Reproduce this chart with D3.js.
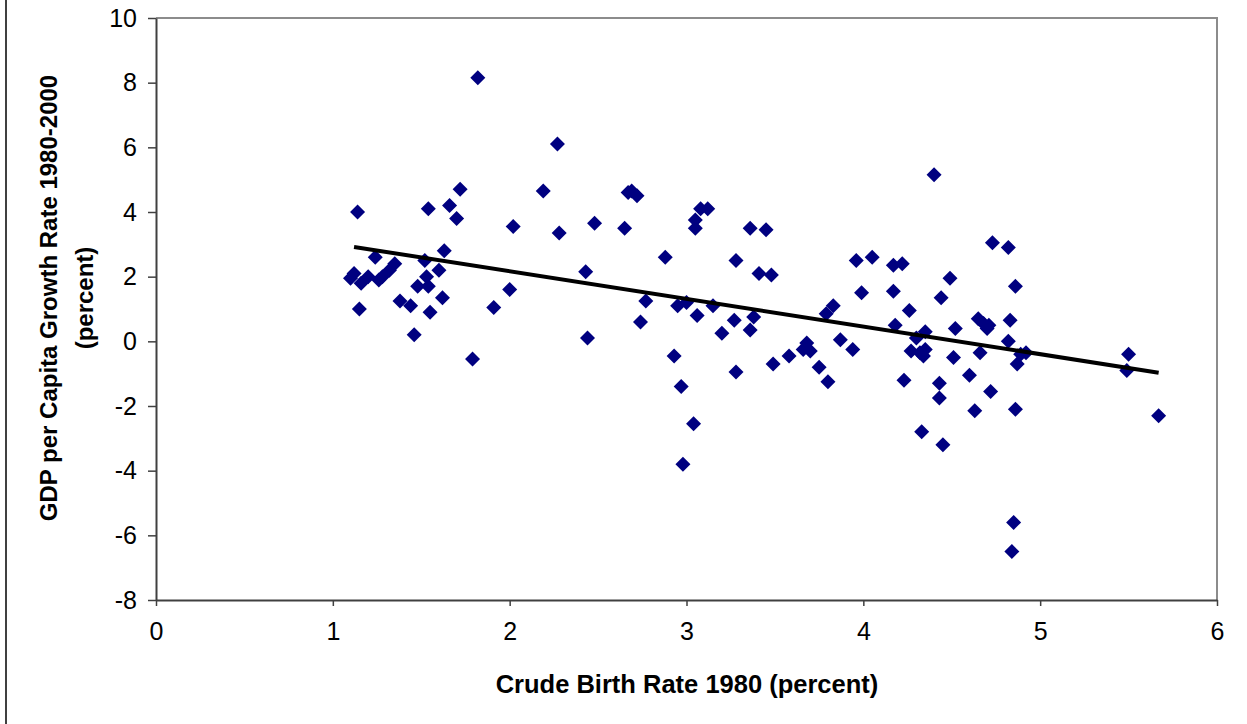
<!DOCTYPE html>
<html>
<head>
<meta charset="utf-8">
<script src="https://cdn.jsdelivr.net/npm/d3@7"></script>
<style>
  body { margin: 0; background: #fff; }
  svg { display: block; font-family: Arial, "Liberation Sans", sans-serif; }
  .tick text { font-size: 25px; fill: #000; font-family: Arial, "Liberation Sans", sans-serif; }
</style>
</head>
<body>
<svg></svg>
<script>
// Chart data
const birthRate = [
  1.10, 1.12, 1.14, 1.15, 1.16, 1.20, 1.24, 1.26, 1.28, 1.32,
  1.35, 1.38, 1.44, 1.46, 1.48, 1.52, 1.53, 1.54, 1.54, 1.55,
  1.60, 1.62, 1.63, 1.66, 1.70, 1.72, 1.79, 1.82, 1.91, 2.00,
  2.02, 2.19, 2.27, 2.28, 2.43, 2.44, 2.48, 2.65, 2.67, 2.69,
  2.72, 2.74, 2.77, 2.88, 2.93, 2.95, 2.97, 2.98, 3.00, 3.04,
  3.05, 3.05, 3.06, 3.08, 3.12, 3.15, 3.20, 3.27, 3.28, 3.28,
  3.36, 3.36, 3.38, 3.41, 3.45, 3.48, 3.49, 3.58, 3.66, 3.68,
  3.70, 3.75, 3.79, 3.80, 3.83, 3.87, 3.94, 3.96, 3.99, 4.05,
  4.17, 4.17, 4.18, 4.22, 4.23, 4.26, 4.27, 4.30, 4.32, 4.33,
  4.34, 4.35, 4.35, 4.40, 4.43, 4.43, 4.44, 4.45, 4.49, 4.51,
  4.52, 4.60, 4.63, 4.65, 4.66, 4.68, 4.70, 4.71, 4.72, 4.73,
  4.82, 4.82, 4.83, 4.84, 4.85, 4.86, 4.86, 4.87, 4.89, 4.92,
  5.49, 5.50, 5.67
];
const gdpGrowth = [
  1.95, 2.10, 4.00, 1.00, 1.80, 2.00, 2.60, 1.90, 2.00, 2.20,
  2.40, 1.25, 1.10, 0.20, 1.70, 2.50, 2.00, 1.70, 4.10, 0.90,
  2.20, 1.35, 2.80, 4.20, 3.80, 4.70, -0.55, 8.15, 1.05, 1.60,
  3.55, 4.65, 6.10, 3.35, 2.15, 0.10, 3.65, 3.50, 4.60, 4.65,
  4.50, 0.60, 1.25, 2.60, -0.45, 1.10, -1.40, -3.80, 1.20, -2.55,
  3.75, 3.50, 0.80, 4.10, 4.10, 1.10, 0.25, 0.65, -0.95, 2.50,
  3.50, 0.35, 0.75, 2.10, 3.45, 2.05, -0.70, -0.45, -0.25, -0.05,
  -0.30, -0.80, 0.85, -1.25, 1.10, 0.05, -0.25, 2.50, 1.50, 2.60,
  2.35, 1.55, 0.50, 2.40, -1.20, 0.95, -0.30, 0.10, -0.35, -2.80,
  -0.45, 0.30, -0.25, 5.15, -1.30, -1.75, 1.35, -3.20, 1.95, -0.50,
  0.40, -1.05, -2.15, 0.70, -0.35, 0.55, 0.40, 0.50, -1.55, 3.05,
  2.90, 0.00, 0.65, -6.50, -5.60, -2.10, 1.70, -0.70, -0.40, -0.35,
  -0.90, -0.40, -2.30
];
// Linear trend line end points
const trendX = [1.12, 5.67];
const trendY = [2.92, -0.97];

const xTicks = [0, 1, 2, 3, 4, 5, 6];
const yTicks = [-8, -6, -4, -2, 0, 2, 4, 6, 8, 10];

const width = 1247, height = 724;
const margin = { left: 156, top: 18, right: 1217, bottom: 600 };

const svg = d3.select("svg")
    .attr("width", width)
    .attr("height", height);

const x = d3.scaleLinear().domain([0, 6]).range([margin.left, margin.right]);
const y = d3.scaleLinear().domain([-8, 10]).range([margin.bottom, margin.top]);

// outer frame (only the left edge shows)
svg.append("line")
    .attr("x1", 6).attr("x2", 6)
    .attr("y1", 0).attr("y2", height)
    .attr("stroke", "#000")
    .attr("stroke-width", 1.5);

// plot area border: gray top and right
svg.append("path")
    .attr("d", `M${margin.left},${margin.top}H${margin.right}V${margin.bottom}`)
    .attr("fill", "none")
    .attr("stroke", "#8c8c8c")
    .attr("stroke-width", 2);

// axes
const fmt = d => String(d);
const xAxis = svg.append("g")
    .attr("transform", `translate(0,${margin.bottom})`)
    .call(d3.axisBottom(x).tickValues(xTicks).tickFormat(fmt)
        .tickSize(6).tickPadding(16).tickSizeOuter(0));
const yAxis = svg.append("g")
    .attr("transform", `translate(${margin.left},0)`)
    .call(d3.axisLeft(y).tickValues(yTicks).tickFormat(fmt)
        .tickSize(8).tickPadding(11).tickSizeOuter(0));

[xAxis, yAxis].forEach(g => {
    g.attr("font-size", null).attr("font-family", null);
    g.select(".domain").attr("stroke", "#404040").attr("stroke-width", 2);
    g.selectAll(".tick line").attr("stroke", "#404040").attr("stroke-width", 1.5);
});

// points
const pts = birthRate.map((b, i) => [b, gdpGrowth[i]]);
const r = 7.5;
svg.append("g")
    .selectAll("path")
    .data(pts)
    .join("path")
    .attr("d", d => {
        const cx = x(d[0]), cy = y(d[1]);
        return `M${cx},${cy - r}L${cx + r},${cy}L${cx},${cy + r}L${cx - r},${cy}Z`;
    })
    .attr("fill", "#000080");

// trend line
svg.append("line")
    .attr("x1", x(trendX[0])).attr("y1", y(trendY[0]))
    .attr("x2", x(trendX[1])).attr("y2", y(trendY[1]))
    .attr("stroke", "#000")
    .attr("stroke-width", 4);

// axis titles
svg.append("text")
    .attr("x", 687)
    .attr("y", 693)
    .attr("text-anchor", "middle")
    .style("font-size", "25.5px")
    .style("font-weight", "bold")
    .text("Crude Birth Rate 1980 (percent)");

const yTitle = svg.append("text")
    .attr("transform", `translate(57,298) rotate(-90)`)
    .attr("text-anchor", "middle")
    .style("font-size", "24px")
    .style("font-weight", "bold");
yTitle.append("tspan").attr("x", 0).attr("dy", 0).text("GDP per Capita Growth Rate 1980-2000");
yTitle.append("tspan").attr("x", 0).attr("dy", 36).text("(percent)");
</script>
</body>
</html>
